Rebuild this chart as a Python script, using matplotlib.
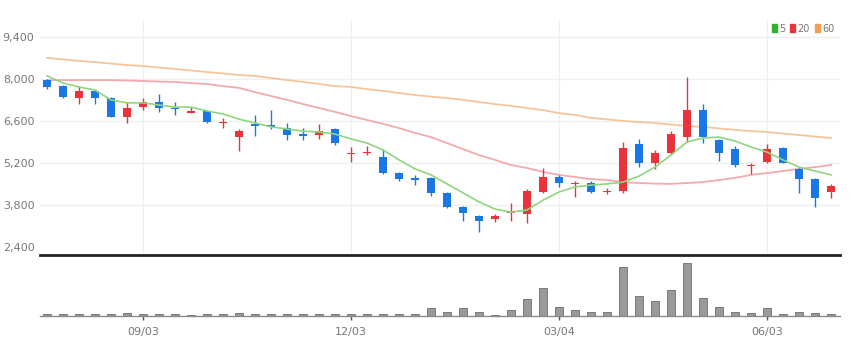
import matplotlib
matplotlib.use('agg')
import matplotlib.pyplot as plt
from matplotlib.patches import Patch
import numpy as np

plt.rcParams['font.family'] = ['Liberation Sans Narrow', 'DejaVu Sans']

# weekly candles
opens = [7980, 7780, 7380, 7620, 7380, 6750, 7080, 7250, 7050, 6890,
         6950, 6550, 6080, 6520, 6480, 6380, 6180, 6150, 6350, 5520,
         5550, 5420, 4880, 4720, 4720, 4220, 3750, 3450, 3350, 3550,
         3520, 4250, 4750, 4520, 4550, 4250, 4280, 5850, 5220, 5550,
         6080, 6980, 5980, 5680, 5100, 5250, 5720, 5020, 4680, 4250]
highs = [8020, 7800, 7780, 7650, 7400, 7250, 7380, 7520, 7250, 7080,
         6970, 6720, 6350, 6820, 6980, 6550, 6380, 6520, 6380, 5750,
         5780, 5680, 4900, 4820, 4750, 4250, 3780, 3480, 3520, 3880,
         4350, 5050, 4820, 4620, 4620, 4380, 5920, 6020, 5650, 6280,
         8080, 7180, 6020, 5780, 5220, 5850, 5750, 5050, 4700, 4520]
lows = [7680, 7380, 7180, 7180, 6750, 6550, 6980, 6920, 6820, 6880,
        6550, 6380, 5620, 6120, 6350, 5980, 5980, 6020, 5820, 5250,
        5480, 4850, 4620, 4480, 4120, 3720, 3280, 2920, 3250, 3280,
        3220, 4220, 4420, 4080, 4220, 4180, 4220, 5080, 5020, 5520,
        5920, 5880, 5280, 5080, 4850, 5220, 5200, 4220, 3750, 4050]
closes = [7750, 7420, 7620, 7380, 6750, 7050, 7250, 7050, 7020, 6920,
          6580, 6590, 6280, 6450, 6420, 6150, 6120, 6280, 5880, 5550,
          5590, 4880, 4680, 4650, 4220, 3750, 3550, 3280, 3450, 3590,
          4280, 4750, 4550, 4560, 4250, 4290, 5720, 5220, 5550, 6180,
          6980, 6080, 5550, 5150, 5150, 5680, 5220, 4680, 4050, 4450]
volumes = [2000, 2000, 2000, 2000, 2000, 2800, 2000, 2000, 2000, 600,
           2000, 2000, 2800, 2000, 2000, 2000, 2000, 2000, 2000, 2000,
           2000, 2500, 2000, 2000, 7700, 4300, 7700, 4300, 1200, 6000,
           17000, 28300, 8700, 6000, 4300, 3700, 49300, 20300, 15000, 26000,
           53300, 17700, 8700, 4300, 2700, 7700, 2000, 3700, 2700, 2000]

ma5 = [8120, 7880, 7750, 7650, 7320, 7220, 7220, 7150, 7080, 7080,
       6950, 6850, 6680, 6550, 6420, 6350, 6280, 6250, 6180, 6020,
       5880, 5650, 5320, 5020, 4820, 4520, 4220, 3920, 3680, 3580,
       3650, 3980, 4250, 4420, 4480, 4520, 4580, 4780, 5080, 5480,
       5920, 6050, 6080, 5950, 5750, 5580, 5320, 5080, 4950, 4820]
ma20 = [7980, 7980, 7980, 7980, 7980, 7970, 7950, 7930, 7920, 7880,
        7850, 7780, 7720, 7580, 7450, 7320, 7180, 7050, 6920, 6780,
        6650, 6520, 6380, 6220, 6080, 5880, 5680, 5480, 5320, 5150,
        5050, 4920, 4820, 4750, 4680, 4650, 4580, 4550, 4530, 4520,
        4550, 4580, 4650, 4720, 4820, 4880, 4950, 5020, 5080, 5150]
ma60 = [8720, 8670, 8620, 8580, 8530, 8480, 8450, 8400, 8350, 8300,
        8250, 8200, 8150, 8120, 8050, 7980, 7920, 7850, 7780, 7750,
        7680, 7620, 7550, 7480, 7430, 7380, 7320, 7250, 7180, 7120,
        7050, 6980, 6880, 6820, 6720, 6670, 6620, 6580, 6550, 6500,
        6450, 6420, 6370, 6320, 6280, 6250, 6200, 6150, 6100, 6050]

tick_idx = [6, 19, 32, 45]
tick_labels = ['09/03', '12/03', '03/04', '06/03']
price_ticks = [2400, 3800, 5200, 6600, 8000, 9400]

UP = '#e8343a'
DOWN = '#1a78e6'
W, H = 856, 355

fig = plt.figure(figsize=(W / 100, H / 100), dpi=100)
ax = fig.add_axes([40 / W, 1 - 255 / H, 800 / W, 235 / H])
axv = fig.add_axes([40 / W, 1 - 316 / H, 800 / W, 58 / H])

x = np.arange(len(opens))
o = np.array(opens); c = np.array(closes)
cols = [UP if cc > oo else DOWN for oo, cc in zip(o, c)]

# grid
for p in price_ticks[1:]:
    ax.axhline(p, color='#efefef', lw=0.9, zorder=0)
for t in tick_idx:
    ax.axvline(t, color='#efefef', lw=0.9, zorder=0)

# moving averages
ax.plot(x, ma60, color='#f7c49a', lw=1.3, zorder=1)
ax.plot(x, ma20, color='#f5a9ad', lw=1.3, zorder=1)
ax.plot(x, ma5, color='#8fd67e', lw=1.2, zorder=3)

# candles
ax.vlines(x, lows, highs, colors=cols, lw=1, zorder=2)
bottoms = np.minimum(o, c)
heights = np.maximum(np.abs(c - o), 45)
ax.bar(x, heights, bottom=bottoms, width=0.47, color=cols, zorder=2)

ax.set_xlim(-0.44, 49.56)
ax.set_ylim(2150, 9983)
ax.set_yticks(price_ticks)
ax.set_yticklabels([f'{p:,}' for p in price_ticks])
ax.tick_params(axis='y', length=0, pad=4, labelsize=8, labelcolor='#777777')
ax.tick_params(axis='x', length=0, labelbottom=False)
for s in ['top', 'right', 'left']:
    ax.spines[s].set_visible(False)
ax.spines['bottom'].set_color('#222222')
ax.spines['bottom'].set_linewidth(2)

# volume
axv.bar(x, volumes, width=0.45, color='#9a9a9a', edgecolor='#6e6e6e', lw=0.6)
axv.set_xlim(-0.44, 49.56)
axv.set_ylim(0, max(volumes) * 58 / 53.3)
axv.set_yticks([])
axv.set_xticks(tick_idx)
axv.set_xticklabels(tick_labels)
axv.tick_params(axis='x', length=3, width=1, color='#555555', pad=5,
                labelsize=8, labelcolor='#777777')
for s in ['top', 'right', 'left']:
    axv.spines[s].set_visible(False)
axv.spines['bottom'].set_color('#8a8a8a')
axv.spines['bottom'].set_linewidth(1)

# legend
handles = [Patch(color='#2db52d'), Patch(color='#e8343a'), Patch(color='#f0a050')]
fig.legend(handles, ['5', '20', '60'], loc='upper right',
           bbox_to_anchor=(843 / W, 1 - 15 / H), ncol=3, frameon=False,
           fontsize=7, handlelength=0.5, handleheight=0.9,
           handletextpad=0.25, columnspacing=0.5, labelcolor='#777777')

fig.savefig('out.png', dpi=100)
